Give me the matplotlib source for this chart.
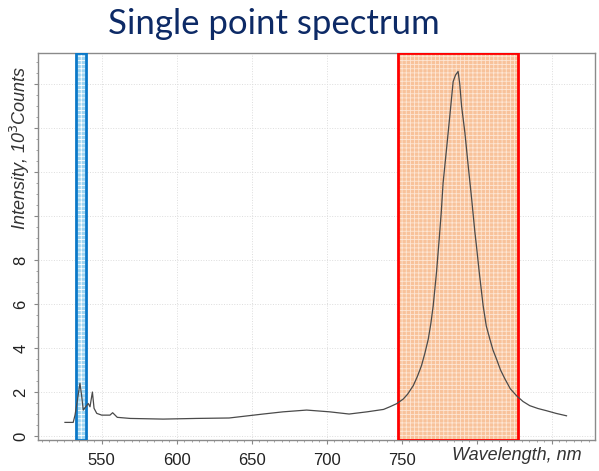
import matplotlib
matplotlib.use("Agg")
import matplotlib.pyplot as plt
from matplotlib.ticker import MultipleLocator

# spectrum (nm, 10^3 counts)
wavelength = [525.5, 531, 532.2, 533.5, 535.5, 536.5, 537.7, 539, 541, 542.2,
              543.8, 544.9, 546.7, 550, 555.5, 557.3, 560.4, 569, 591, 613,
              635, 657.7, 671, 686.7, 702, 715, 727, 738, 742.2, 746.7,
              749, 751.1, 754, 757.8, 760.5, 763.3, 765.5, 767.8, 769.5,
              771.1, 773.3, 775.1, 776.5, 777.7, 780, 782.2, 784.4, 786,
              787.7, 788.8, 790, 792.2, 794.4, 796.7, 798.9, 800, 801.8,
              804.4, 806.5, 808.9, 811, 813.3, 816, 818.9, 822.5, 826.7,
              831, 835.5, 841, 846.7, 853, 860]
intensity = [0.62, 0.62, 0.95, 1.5, 2.4, 1.9, 1.18, 1.3, 1.48, 1.33,
             2.0, 1.26, 1.03, 0.95, 0.95, 1.06, 0.85, 0.8, 0.77, 0.8,
             0.82, 1.0, 1.1, 1.18, 1.1, 1.0, 1.1, 1.21, 1.33, 1.47,
             1.58, 1.68, 1.9, 2.29, 2.7, 3.2, 3.75, 4.4, 5.1,
             5.92, 7.44, 8.95, 10.2, 11.5, 13.05, 14.56, 16.1, 16.4,
             16.56, 16.0, 15.0, 13.8, 12.3, 10.8, 9.26, 8.6, 7.44,
             5.92, 5.0, 4.4, 3.9, 3.5, 3.0, 2.6, 2.15, 1.83,
             1.57, 1.38, 1.25, 1.15, 1.03, 0.92]

blue_band = (532.9, 539.5)
red_band = (747.5, 827.5)

x_ticks = [550, 600, 650, 700, 750, 800, 850]
x_labels = ["550", "600", "650", "700", "750", "", ""]
y_ticks = [0, 2, 4, 6, 8, 10, 12, 14, 16]
y_labels = ["0", "2", "4", "6", "8", "", "", "", ""]

plt.rcParams["font.family"] = ["Liberation Sans", "DejaVu Sans"]
plt.rcParams["hatch.linewidth"] = 0.6

fig = plt.figure(figsize=(5.99, 4.71), dpi=100)
ax = fig.add_axes([0.0634, 0.0658, 0.9299, 0.8217])

# highlighted bands: textured fill + coloured frame
ax.axvspan(*blue_band, facecolor="#9fd6f2", edgecolor="white", hatch="++++",
           linewidth=0, zorder=1)
ax.axvspan(*blue_band, facecolor="none", edgecolor="#0a78c8", linewidth=2,
           zorder=3)
ax.axvspan(*red_band, facecolor="#f8c29a", edgecolor="#fde6d4", hatch="++++",
           linewidth=0, zorder=1)
ax.axvspan(*red_band, facecolor="none", edgecolor="#ff0000", linewidth=2,
           zorder=3)

ax.plot(wavelength, intensity, color="#4a4a4a", linewidth=0.9, zorder=4)

ax.set_xlim(507.5, 879)
ax.set_ylim(-0.18, 17.4)
ax.set_xticks(x_ticks)
ax.set_xticklabels(x_labels)
ax.set_yticks(y_ticks)
ax.set_yticklabels(y_labels, rotation=90, va="center")
ax.xaxis.set_minor_locator(MultipleLocator(5))
ax.yaxis.set_minor_locator(MultipleLocator(0.5))
ax.tick_params(which="major", length=3, color="#888888", labelsize=12,
               labelcolor="#222222")
ax.tick_params(which="minor", length=1.5, color="#999999")
ax.tick_params(axis="x", pad=6)
ax.tick_params(axis="y", pad=4)
ax.grid(True, linestyle=":", color="#dddddd", linewidth=0.7)
ax.set_axisbelow(True)
for side in ax.spines.values():
    side.set_color("#8a8a8a")
    side.set_linewidth(1.0)

fig.text(0.862, 0.033, "Wavelength, nm", fontsize=13, style="italic",
         color="#333333", ha="center", va="center")
fig.text(0.033, 0.686, "Intensity, 10$^3$Counts", fontsize=13,
         style="italic", color="#333333", rotation=90, ha="center",
         va="center")
fig.text(0.457, 0.948, "Single point spectrum", fontsize=25,
         family=["Lato", "DejaVu Sans"], color="#0d2a66", ha="center",
         va="center")

fig.savefig("out.png", dpi=100)
